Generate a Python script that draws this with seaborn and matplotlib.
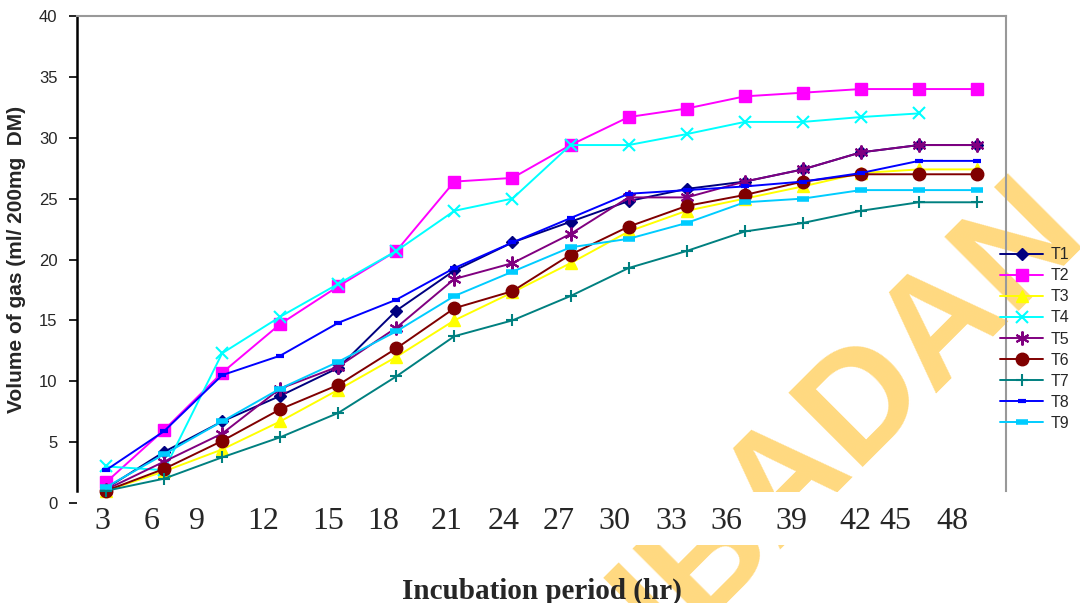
import numpy as np
import pandas as pd
import matplotlib
matplotlib.use("Agg")
import matplotlib.pyplot as plt
import matplotlib.patches as mpatches
import seaborn as sns

# incubation hours (categories) and gas volume per treatment
HOURS = [3, 6, 9, 12, 15, 18, 21, 24, 27, 30, 33, 36, 39, 42, 45, 48]
T1 = [1.2, 4.2, 6.7, 8.8, 11.1, 15.8, 19.1, 21.4, 23.1, 24.8, 25.8, 26.4, 27.4, 28.8, 29.4, 29.4]
T2 = [1.7, 6.0, 10.7, 14.7, 17.8, 20.7, 26.4, 26.7, 29.4, 31.7, 32.4, 33.4, 33.7, 34.0, 34.0, 34.0]
T3 = [1.0, 2.6, 4.4, 6.7, 9.3, 12.0, 15.0, 17.3, 19.7, 22.3, 24.0, 25.0, 26.0, 27.1, 27.4, 27.4]
T4 = [3.0, 2.7, 12.3, 15.3, 18.0, 20.7, 24.0, 25.0, 29.4, 29.4, 30.3, 31.3, 31.3, 31.7, 32.0, np.nan]
T5 = [1.1, 3.4, 5.7, 9.4, 11.2, 14.4, 18.4, 19.7, 22.1, 25.1, 25.1, 26.4, 27.4, 28.8, 29.4, 29.4]
T6 = [1.0, 2.8, 5.1, 7.7, 9.7, 12.7, 16.0, 17.4, 20.4, 22.7, 24.4, 25.3, 26.4, 27.0, 27.0, 27.0]
T7 = [1.0, 2.0, 3.75, 5.4, 7.4, 10.4, 13.7, 15.0, 17.0, 19.3, 20.7, 22.3, 23.0, 24.0, 24.7, 24.7]
T8 = [2.7, 5.9, 10.5, 12.1, 14.8, 16.7, 19.3, 21.4, 23.4, 25.4, 25.7, 26.0, 26.4, 27.1, 28.1, 28.1]
T9 = [1.3, 4.0, 6.7, 9.4, 11.6, 14.1, 17.0, 19.0, 21.0, 21.7, 23.0, 24.7, 25.0, 25.7, 25.7, 25.7]
SERIES = ["T1", "T2", "T3", "T4", "T5", "T6", "T7", "T8", "T9"]
VALUES = [T1, T2, T3, T4, T5, T6, T7, T8, T9]

# layout: where the (oddly spaced) category labels sit
TICK_POS = [-0.06, 0.78, 1.57, 2.71, 3.83, 4.78, 5.86, 6.85, 7.80,
            8.76, 9.74, 10.69, 11.81, 12.90, 13.59, 14.57]

STYLES = {
    "T1": dict(color="#000080", marker="D", ms=6),
    "T2": dict(color="#FF00FF", marker="s", ms=8),
    "T3": dict(color="#FFFF00", marker="^", ms=9),
    "T4": dict(color="#00FFFF", marker="x", ms=9, mew=1.5),
    "T5": dict(color="#800080", marker=(6, 2, 0), ms=10, mew=1.5),
    "T6": dict(color="#800000", marker="o", ms=9),
    "T7": dict(color="#008080", marker="+", ms=9, mew=1.5),
    "T8": dict(color="#0000FF", marker="_", ms=6, mew=3),
    "T9": dict(color="#00CCFF", marker="_", ms=9, mew=4),
}

sns.set_style("white")
plt.rcParams["font.family"] = ["Liberation Sans", "DejaVu Sans"]

fig = plt.figure(figsize=(10.8, 6.03), dpi=100)
ax = fig.add_axes([77 / 1080, 1 - 503 / 603, 929 / 1080, 487 / 603])
ax.patch.set_facecolor("none")

# watermark behind everything
fig.text(850 / 1080, 1 - 415 / 603, "IBADAN", rotation=45, fontsize=110,
         fontweight="bold", color="#FFD980", ha="center", va="center",
         zorder=-5)
# the category-label band hides the watermark
fig.patches.append(mpatches.Rectangle((77 / 1080, 1 - 545 / 603), 929 / 1080,
                                      53 / 603, transform=fig.transFigure,
                                      facecolor="white", edgecolor="none",
                                      zorder=-4))

x = np.arange(len(HOURS))
handles = []
for name, vals in zip(SERIES, VALUES):
    df = pd.DataFrame({"x": x, "y": vals}).dropna()
    st = STYLES[name]
    sns.lineplot(data=df, x="x", y="y", ax=ax, color=st["color"],
                 linewidth=1.4, marker=st["marker"], markersize=st["ms"],
                 markeredgewidth=st.get("mew", 1), markeredgecolor=st["color"],
                 markerfacecolor=st["color"], label=name, legend=False)
    handles.append(ax.lines[-1])

ax.set_xlim(-0.5, len(HOURS) - 0.5)
ax.set_ylim(0, 40)
ax.set_yticks(np.arange(0, 41, 5))
ax.tick_params(axis="y", direction="out", length=6, width=1.2, color="black",
               pad=8, labelsize=12, left=True)
ax.set_xticks(TICK_POS)
ax.set_xticklabels([str(h) for h in HOURS], fontfamily="Liberation Serif",
                   fontsize=23)
ax.tick_params(axis="x", length=0, pad=3)

for side in ["top", "right"]:
    ax.spines[side].set_color("#999999")
    ax.spines[side].set_linewidth(1.5)
    ax.spines[side].set_visible(True)
ax.spines["right"].set_bounds(1, 40)
ax.spines["left"].set_color("black")
ax.spines["left"].set_linewidth(1.8)
ax.spines["left"].set_bounds(1, 40)
ax.spines["bottom"].set_visible(False)

ax.set_xlabel("Incubation period (hr)", fontfamily="Liberation Serif",
              fontweight="bold", fontsize=21, labelpad=30)
ax.set_ylabel("Volume of gas (ml/ 200mg  DM)", fontweight="bold",
              fontsize=15, labelpad=9)

ax.legend(handles=handles, labels=SERIES, loc="center left",
          bbox_to_anchor=(1000 / 1080, 1 - 339 / 603),
          bbox_transform=fig.transFigure, frameon=False, fontsize=11.5,
          handlelength=2.7, handletextpad=0.45, labelspacing=0.38,
          borderpad=0, borderaxespad=0, numpoints=1)

fig.savefig("out.png", dpi=100)
